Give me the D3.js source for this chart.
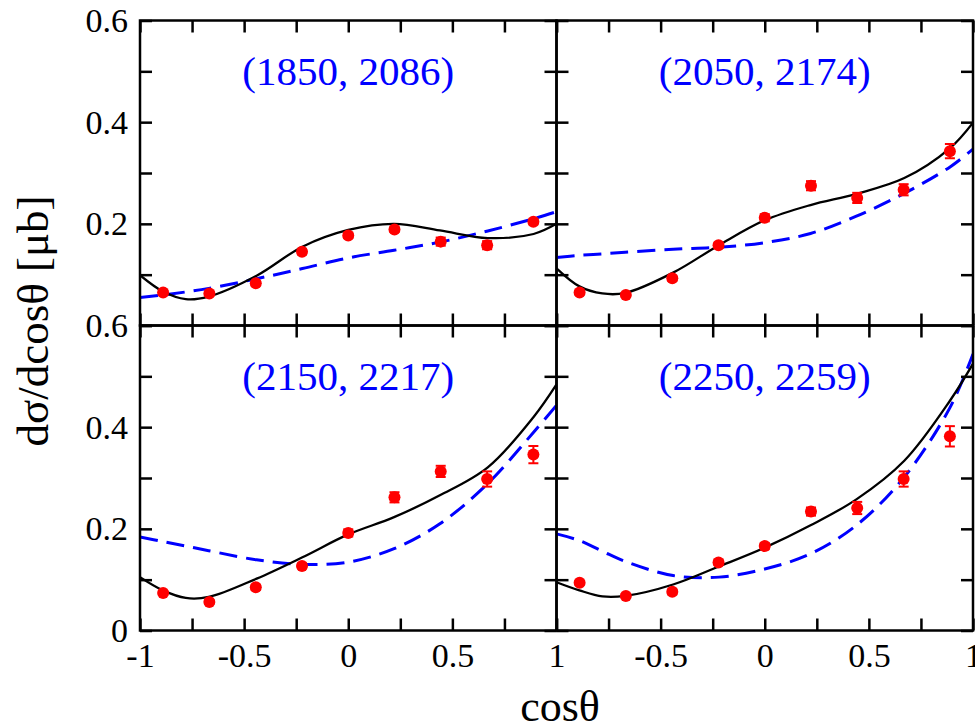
<!DOCTYPE html>
<html>
<head>
<meta charset="utf-8">
<script src="https://cdn.jsdelivr.net/npm/d3@7"></script>
<style>
  body { margin: 0; background: #fff; }
  svg { display: block; font-family: "Liberation Serif", "Times New Roman", serif; }
</style>
</head>
<body>
<div id="chart"></div>
<script>
// measured angles of the data points
const cosTheta = [-0.889, -0.667, -0.444, -0.222, 0, 0.222, 0.444, 0.667, 0.889];
const curveX = [-1, -0.89, -0.78, -0.67, -0.44, -0.22, 0, 0.22, 0.44, 0.67, 0.89, 1];

const panelLabels = ["(1850, 2086)", "(2050, 2174)", "(2150, 2217)", "(2250, 2259)"];

// data points and errors
const data1850 = [0.065, 0.063, 0.083, 0.145, 0.177, 0.189, 0.165, 0.158, 0.204];
const err1850  = [0.004, 0.004, 0.004, 0.005, 0.005, 0.005, 0.008, 0.008, 0.005];
const data2050 = [0.065, 0.060, 0.093, 0.158, 0.212, 0.275, 0.251, 0.267, 0.343];
const err2050  = [0.004, 0.004, 0.005, 0.005, 0.007, 0.009, 0.010, 0.011, 0.014];
const data2150 = [0.074, 0.056, 0.085, 0.127, 0.192, 0.262, 0.313, 0.298, 0.346];
const err2150  = [0.004, 0.004, 0.005, 0.005, 0.007, 0.010, 0.011, 0.015, 0.017];
const data2250 = [0.094, 0.068, 0.076, 0.134, 0.166, 0.234, 0.241, 0.298, 0.382];
const err2250  = [0.004, 0.004, 0.005, 0.005, 0.006, 0.008, 0.012, 0.015, 0.020];

// full model (solid black)
const full1850 = [0.099, 0.067, 0.052, 0.057, 0.098, 0.155, 0.188, 0.200, 0.187, 0.172, 0.180, 0.200];
const full2050 = [0.1125, 0.077, 0.063, 0.064, 0.104, 0.158, 0.207, 0.237, 0.259, 0.290, 0.349, 0.399];
const full2150 = [0.105, 0.079, 0.064, 0.066, 0.102, 0.144, 0.189, 0.223, 0.266, 0.321, 0.420, 0.484];
const full2250 = [0.095, 0.079, 0.067, 0.068, 0.0905, 0.126, 0.163, 0.207, 0.258, 0.334, 0.4525, 0.525];

// second model (dashed blue)
const dash1850 = [0.055, 0.060, 0.066, 0.073, 0.092, 0.112, 0.133, 0.148, 0.164, 0.186, 0.210, 0.224];
const dash2050 = [0.134, 0.138, 0.141, 0.144, 0.150, 0.154, 0.163, 0.181, 0.215, 0.260, 0.312, 0.347];
const dash2150 = [0.184, 0.175, 0.166, 0.157, 0.139, 0.130, 0.1345, 0.161, 0.210, 0.289, 0.390, 0.443];
const dash2250 = [0.190, 0.177, 0.156, 0.136, 0.108, 0.105, 0.121, 0.151, 0.207, 0.302, 0.439, 0.544];

const xMajor = [-1, -0.5, 0, 0.5, 1];
const xMinor = [-0.75, -0.25, 0.25, 0.75];
const yMajor = [0, 0.2, 0.4, 0.6];
const yMinor = [0.1, 0.3, 0.5];

const panels = [
  {label: panelLabels[0], pts: data1850, err: err1850, full: full1850, dash: dash1850},
  {label: panelLabels[1], pts: data2050, err: err2050, full: full2050, dash: dash2050},
  {label: panelLabels[2], pts: data2150, err: err2150, full: full2150, dash: dash2150},
  {label: panelLabels[3], pts: data2250, err: err2250, full: full2250, dash: dash2250}
];

const width = 975, height = 728;
const left0 = 140, top0 = 20.5, pw = 416.5, ph = 305;
const tick = 12;

const svg = d3.select("#chart").append("svg")
  .attr("width", width)
  .attr("height", height);

panels.forEach((p, i) => {
  let col = i % 2, row = Math.floor(i / 2);
  let x0 = left0 + col * pw, y0 = top0 + row * ph;

  let x = d3.scaleLinear().domain([-1, 1]).range([x0, x0 + pw]);
  let y = d3.scaleLinear().domain([0, 0.6]).range([y0 + ph, y0]);

  let g = svg.append("g");

  // clip the curves to the frame
  let clipId = "clip" + i;
  svg.append("clipPath").attr("id", clipId)
    .append("rect").attr("x", x0).attr("y", y0).attr("width", pw).attr("height", ph);

  let line = d3.line()
    .x((d, j) => x(curveX[j]))
    .y(d => y(d))
    .curve(d3.curveCatmullRom.alpha(0.5));

  g.append("path")
    .attr("clip-path", `url(#${clipId})`)
    .attr("d", line(p.dash))
    .attr("fill", "none")
    .attr("stroke", "#0000ff")
    .attr("stroke-width", 3)
    .attr("stroke-dasharray", "18 9");

  g.append("path")
    .attr("clip-path", `url(#${clipId})`)
    .attr("d", line(p.full))
    .attr("fill", "none")
    .attr("stroke", "#000")
    .attr("stroke-width", 2.3);

  // error bars
  let bars = g.selectAll(".eb").data(p.pts).enter().append("g");
  bars.append("line")
    .attr("x1", (d, j) => x(cosTheta[j])).attr("x2", (d, j) => x(cosTheta[j]))
    .attr("y1", (d, j) => y(d - p.err[j])).attr("y2", (d, j) => y(d + p.err[j]))
    .attr("stroke", "#ff0000").attr("stroke-width", 2);
  [-1, 1].forEach(s => {
    bars.append("line")
      .attr("x1", (d, j) => x(cosTheta[j]) - 5).attr("x2", (d, j) => x(cosTheta[j]) + 5)
      .attr("y1", (d, j) => y(d + s * p.err[j])).attr("y2", (d, j) => y(d + s * p.err[j]))
      .attr("stroke", "#ff0000").attr("stroke-width", 2);
  });
  bars.append("circle")
    .attr("cx", (d, j) => x(cosTheta[j]))
    .attr("cy", d => y(d))
    .attr("r", 6)
    .attr("fill", "#ff0000");

  // label of the panel
  g.append("text")
    .attr("x", x0 + pw / 2)
    .attr("y", y0 + 64)
    .attr("text-anchor", "middle")
    .attr("fill", "#0000ff")
    .style("font-size", "41px")
    .text(p.label);

  // axes, ticks pointing inward on all four sides
  let xLabels = row === 1 ? (col === 0 ? xMajor : xMajor.slice(1)) : [];
  let yLabels = col === 0 ? (row === 0 ? yMajor.slice(1) : yMajor) : [];

  let axes = [
    [d3.axisBottom(x), y0 + ph, 0, xMajor, xLabels, true],
    [d3.axisTop(x), y0, 0, xMajor, [], true],
    [d3.axisLeft(y), x0, 1, yMajor, yLabels, false],
    [d3.axisRight(y), x0 + pw, 1, yMajor, [], false]
  ];
  axes.forEach(([ax, pos, vert, major, labs, isX]) => {
    let minor = isX ? xMinor : yMinor;
    let a = g.append("g")
      .attr("transform", vert ? `translate(${pos},0)` : `translate(0,${pos})`)
      .call(ax.tickValues(major.concat(minor)).tickSize(-tick).tickPadding(12)
        .tickFormat(d => labs.includes(d) ? String(d) : ""));
    a.select(".domain").remove();
    a.selectAll(".tick line").attr("stroke", "#000").attr("stroke-width", 2.5);
    a.selectAll(".tick text")
      .attr("fill", "#000")
      .style("font-size", "34px")
      .style("font-family", "'Liberation Serif', 'Times New Roman', serif");
  });

  g.append("rect")
    .attr("x", x0).attr("y", y0).attr("width", pw).attr("height", ph)
    .attr("fill", "none").attr("stroke", "#000").attr("stroke-width", 2.5);
});

// axis titles
svg.append("text")
  .attr("x", 560)
  .attr("y", 721)
  .attr("text-anchor", "middle")
  .style("font-size", "44px")
  .text("cosθ");

svg.append("text")
  .attr("transform", "translate(48,321) rotate(-90)")
  .attr("text-anchor", "middle")
  .style("font-size", "45px")
  .text("dσ/dcosθ [μb]");
</script>
</body>
</html>
